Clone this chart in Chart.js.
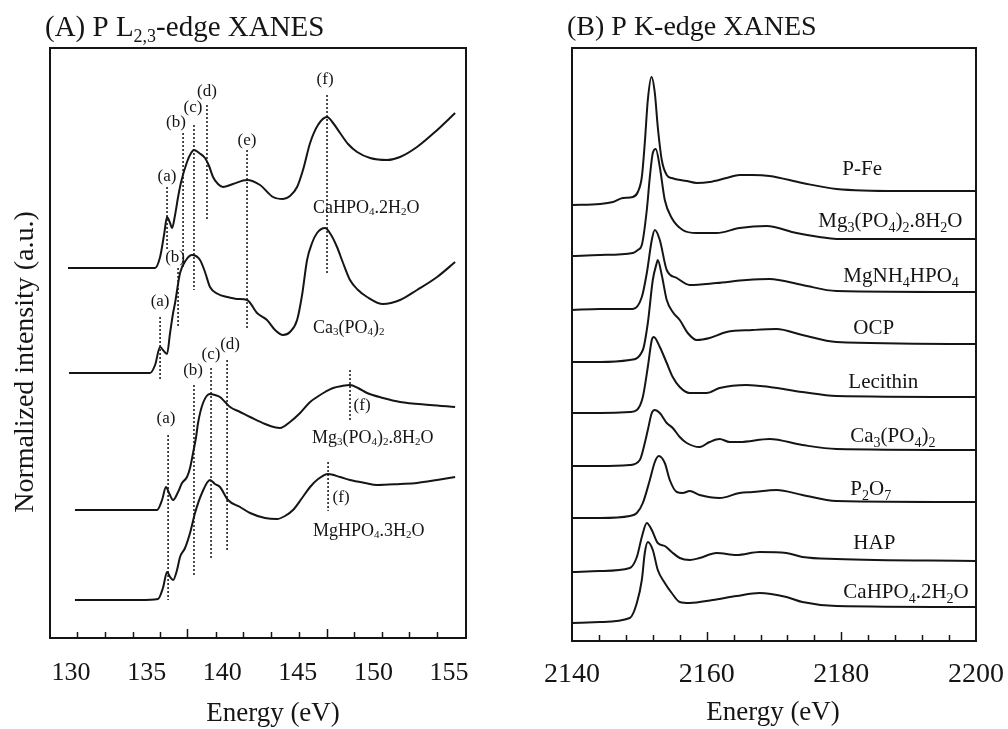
<!DOCTYPE html>
<html><head><meta charset="utf-8">
<script src="https://cdn.jsdelivr.net/npm/chart.js@4.4.1/dist/chart.umd.min.js"></script>
<style>
html,body{margin:0;padding:0;background:#fff;overflow:hidden;}
#wrap{position:relative;width:1008px;height:729px;overflow:hidden;background:#fff;}
#cA{position:absolute;left:0;top:0;}
#cB{position:absolute;left:510px;top:0;}
</style></head><body>
<div id="wrap"><canvas id="cA" width="510" height="729"></canvas><canvas id="cB" width="511" height="729"></canvas></div>
<script>
// ---------- Panel A : P L2,3-edge XANES ----------
const A_xTicks = [130,135,140,145,150,155];
const A_xMin = 128.61, A_xMax = 156.12, A_yMin = 0, A_yMax = 5.90;
const A_minorTicks = [130.40,132.25,134.10,135.89,139.59,141.38,143.23,145.08,148.72,150.57,152.35,154.21];
const A_majorTicks = [137.67,146.93];

const A1_x = [129.80,131.92,133.90,135.56,135.89,136.15,136.35,136.55,136.68,136.88,137.08,137.28,137.67,137.94,138.13,138.47,138.86,139.13,139.39,139.72,140.05,140.71,141.64,142.50,143.36,144.02,144.48,144.95,145.34,145.81,146.33,146.93,147.33,147.79,148.32,148.92,149.78,150.90,151.76,152.88,154.07,155.40];
const A1_y = [3.70,3.70,3.70,3.70,3.81,4.03,4.21,4.15,4.10,4.23,4.41,4.56,4.76,4.85,4.88,4.85,4.80,4.72,4.61,4.54,4.51,4.54,4.58,4.53,4.41,4.39,4.42,4.51,4.68,4.95,5.13,5.21,5.15,5.05,4.94,4.86,4.80,4.78,4.81,4.91,5.06,5.25];
const A2_x = [129.87,131.92,133.90,135.22,135.56,135.89,136.08,136.35,136.55,136.75,136.88,137.21,137.61,138.00,138.53,138.86,139.19,139.72,140.32,140.98,141.64,142.30,142.96,143.49,144.02,144.48,144.95,145.28,145.61,145.94,146.27,146.80,147.20,147.59,147.99,148.45,148.98,149.58,150.63,151.76,152.88,154.21,155.40];
const A2_y = [2.65,2.65,2.65,2.65,2.73,2.91,2.88,2.84,3.05,3.25,3.35,3.65,3.78,3.83,3.78,3.66,3.51,3.44,3.41,3.39,3.38,3.25,3.18,3.08,3.03,3.06,3.18,3.43,3.78,3.95,4.05,4.10,4.03,3.91,3.75,3.58,3.48,3.41,3.34,3.38,3.48,3.61,3.76];
const A3_x = [130.26,132.58,134.56,135.69,136.02,136.28,136.48,136.75,137.08,137.34,137.67,137.87,138.07,138.27,138.40,138.73,139.19,139.52,139.85,140.19,140.52,141.18,141.84,142.83,143.82,144.48,145.15,145.81,146.27,146.80,147.33,147.92,148.45,148.98,149.58,150.63,151.76,153.74,155.40];
const A3_y = [1.28,1.28,1.28,1.28,1.38,1.51,1.45,1.38,1.46,1.55,1.61,1.70,1.85,2.01,2.15,2.35,2.44,2.43,2.41,2.36,2.31,2.26,2.21,2.14,2.10,2.16,2.25,2.36,2.41,2.46,2.50,2.52,2.53,2.50,2.45,2.40,2.36,2.33,2.31];
const A4_x = [130.26,132.58,134.56,135.75,136.08,136.35,136.55,136.75,137.01,137.21,137.54,137.87,138.20,138.66,139.19,139.52,139.85,140.38,141.18,141.84,142.83,143.62,144.15,144.68,145.28,145.81,146.34,147.00,147.79,148.45,149.44,150.24,151.76,152.88,154.21,155.40];
const A4_y = [0.38,0.38,0.38,0.39,0.50,0.66,0.61,0.58,0.68,0.81,0.90,1.05,1.25,1.45,1.58,1.54,1.51,1.38,1.31,1.25,1.20,1.19,1.22,1.28,1.40,1.51,1.59,1.64,1.61,1.58,1.55,1.53,1.54,1.55,1.58,1.61];

const A_sampleNames = ['CaHPO{4}.2H{2}O','Ca{3}(PO{4}){2}','Mg{3}(PO{4}){2}.8H{2}O','MgHPO{4}.3H{2}O'];
const A_sampleX = [146.00,146.00,145.94,146.00];
const A_sampleY = [4.25,3.05,1.95,1.02];

const A_markX      = [136.35,137.41,138.13,138.99,141.64,146.93,135.89,137.08,136.42,138.13,139.26,140.32,148.45,147.00];
const A_markTop    = [4.51,5.05,5.13,5.33,4.88,5.43,3.21,3.70,2.03,2.53,2.70,2.78,2.68,1.76];
const A_markBottom = [3.88,3.71,3.48,4.17,3.09,3.63,2.59,3.10,0.38,0.63,0.80,0.88,2.18,1.27];
const A_markText   = ['(a)','(b)','(c)','(d)','(e)','(f)','(a)','(b)','(a)','(b)','(c)','(d)','(f)','(f)'];
const A_markLabX   = [136.35,136.94,138.07,138.99,141.64,146.80,135.89,136.88,136.28,138.07,139.26,140.52,149.25,147.86];
const A_markLabY   = [4.61,5.15,5.30,5.46,4.97,5.58,3.36,3.80,2.19,2.67,2.83,2.93,2.32,1.40];

// ---------- Panel B : P K-edge XANES ----------
const B_xTicks = [2140,2160,2180,2200];
const B_xMin = 2140, B_xMax = 2200, B_yMin = 0, B_yMax = 5.93;
const B_minorTicks = [2144,2148,2152,2156,2164,2168,2172,2176,2184,2188,2192,2196];
const B_majorTicks = [2160,2180];

const B1_x = [2140.00,2144.15,2146.07,2147.56,2149.04,2149.78,2150.37,2150.81,2151.26,2151.81,2152.30,2152.74,2153.33,2154.07,2154.81,2157.04,2158.52,2160.44,2162.96,2164.89,2166.81,2169.33,2174.22,2179.26,2188.59,2200.00];
const B1_y = [4.36,4.37,4.39,4.43,4.44,4.49,4.64,4.98,5.41,5.64,5.48,5.14,4.81,4.66,4.63,4.60,4.58,4.59,4.63,4.66,4.66,4.65,4.58,4.52,4.50,4.50];
const B2_x = [2140.00,2144.15,2149.04,2149.78,2150.37,2151.11,2151.56,2152.00,2152.44,2153.04,2153.78,2154.81,2156.44,2158.52,2161.48,2164.89,2168.89,2173.33,2176.74,2179.26,2200.00];
const B2_y = [3.85,3.86,3.88,3.91,3.96,4.31,4.64,4.88,4.92,4.74,4.41,4.23,4.11,4.08,4.08,4.13,4.15,4.08,4.04,4.02,4.02];
const B3_x = [2140.00,2144.15,2149.04,2150.37,2151.11,2151.85,2152.30,2153.04,2154.07,2155.56,2157.48,2161.48,2165.93,2169.33,2174.22,2179.26,2200.00];
const B3_y = [3.31,3.32,3.32,3.44,3.68,4.01,4.11,4.01,3.71,3.63,3.56,3.58,3.61,3.62,3.56,3.50,3.49];
const B4_x = [2140.00,2144.15,2148.59,2150.52,2151.26,2152.00,2152.59,2152.74,2153.33,2154.07,2154.96,2156.00,2157.19,2158.52,2160.44,2162.96,2166.81,2170.37,2174.22,2179.26,2200.00];
const B4_y = [2.79,2.79,2.81,2.91,3.18,3.61,3.78,3.81,3.66,3.41,3.29,3.21,3.08,3.01,3.03,3.09,3.11,3.12,3.06,2.99,2.97];
const B5_x = [2140.00,2144.15,2148.59,2149.63,2150.52,2151.26,2151.85,2152.15,2153.04,2154.07,2154.96,2156.00,2157.48,2160.00,2161.93,2165.93,2169.33,2174.22,2179.26,2200.00];
const B5_y = [2.28,2.28,2.29,2.31,2.44,2.74,3.01,3.04,2.94,2.78,2.64,2.54,2.48,2.48,2.53,2.56,2.54,2.49,2.45,2.44];
const B6_x = [2140.00,2144.15,2148.59,2150.07,2150.81,2151.26,2151.85,2152.30,2153.04,2154.07,2154.96,2156.00,2157.04,2158.96,2160.44,2161.93,2163.41,2164.89,2169.33,2174.22,2179.26,2200.00];
const B6_y = [1.75,1.75,1.76,1.81,1.98,2.11,2.28,2.31,2.28,2.18,2.13,2.04,1.98,1.94,1.99,2.02,1.99,1.99,2.02,1.96,1.92,1.91];
const B7_x = [2140.00,2144.15,2148.59,2149.63,2150.52,2151.56,2152.30,2152.89,2153.78,2154.52,2155.56,2156.44,2157.48,2158.96,2161.93,2164.89,2166.81,2170.37,2174.22,2179.26,2200.00];
const B7_y = [1.23,1.23,1.25,1.28,1.38,1.61,1.79,1.85,1.78,1.61,1.49,1.48,1.50,1.46,1.43,1.48,1.49,1.51,1.46,1.40,1.39];
const B8_x = [2140.00,2144.15,2148.59,2149.63,2150.37,2151.11,2151.85,2152.74,2153.78,2154.81,2156.00,2157.48,2158.96,2161.48,2164.44,2167.85,2171.85,2174.22,2179.26,2200.00];
const B8_y = [0.69,0.70,0.73,0.84,1.04,1.18,1.11,0.98,0.95,0.89,0.83,0.81,0.83,0.88,0.86,0.89,0.88,0.84,0.82,0.80];
const B9_x = [2140.00,2144.15,2148.59,2149.63,2150.37,2150.81,2151.26,2152.00,2152.74,2153.78,2154.81,2156.00,2157.48,2160.89,2164.44,2167.85,2171.85,2174.22,2179.26,2200.00];
const B9_y = [0.18,0.19,0.23,0.38,0.61,0.88,0.99,0.91,0.71,0.58,0.48,0.39,0.38,0.41,0.45,0.48,0.44,0.39,0.35,0.34];

const B_sampleNames = ['P-Fe','Mg{3}(PO{4}){2}.8H{2}O','MgNH{4}HPO{4}','OCP','Lecithin','Ca{3}(PO{4}){2}','P{2}O{7}','HAP','CaHPO{4}.2H{2}O'];
const B_sampleX = [2180.15,2176.59,2180.30,2181.78,2181.04,2181.33,2181.33,2181.78,2180.30];
const B_sampleY = [4.66,4.14,3.59,3.07,2.53,1.99,1.46,0.92,0.43];

// ---------- drawing helpers ----------
const FONT = '"Liberation Serif", "Times New Roman", serif';
const INK = '#151515';

function drawRich(ctx, text, x, y, size, subSize, subDy, align) {
  const parts = []; const re = /\{([^}]*)\}/g; let last = 0, m;
  while ((m = re.exec(text))) {
    if (m.index > last) parts.push({t: text.slice(last, m.index), s: false});
    parts.push({t: m[1], s: true}); last = re.lastIndex;
  }
  if (last < text.length) parts.push({t: text.slice(last), s: false});
  let w = 0;
  parts.forEach(p => { ctx.font = (p.s ? subSize : size) + 'px ' + FONT; p.w = ctx.measureText(p.t).width; w += p.w; });
  let cx = align === 'center' ? x - w / 2 : (align === 'right' ? x - w : x);
  ctx.textAlign = 'left'; ctx.textBaseline = 'alphabetic';
  parts.forEach(p => { ctx.font = (p.s ? subSize : size) + 'px ' + FONT; ctx.fillText(p.t, cx, p.s ? y + subDy : y); cx += p.w; });
}

function curve(xs, ys) {
  return { data: xs.map((v, i) => ({x: v, y: ys[i]})), borderColor: INK, borderWidth: 2,
    pointRadius: 0, tension: 0.4, cubicInterpolationMode: 'monotone', fill: false };
}
function marker(x, y0, y1) {
  return { data: [{x: x, y: y0}, {x: x, y: y1}], borderColor: '#222', borderWidth: 1.6,
    borderDash: [2, 2], pointRadius: 0, tension: 0, fill: false };
}

const panelPlugin = {
  id: 'panel',
  afterDraw(chart, args, o) {
    const ctx = chart.ctx, ca = chart.chartArea, xs = chart.scales.x, ys = chart.scales.y;
    ctx.save();
    ctx.fillStyle = INK; ctx.strokeStyle = INK;
    ctx.lineWidth = 2;
    ctx.strokeRect(ca.left, ca.top, ca.right - ca.left, ca.bottom - ca.top);
    ctx.lineWidth = 1.5;
    const tick = (v, len) => { const px = Math.round(xs.getPixelForValue(v)) + 0.5;
      ctx.beginPath(); ctx.moveTo(px, ca.bottom); ctx.lineTo(px, ca.bottom - len); ctx.stroke(); };
    o.minor.forEach(v => tick(v, 6));
    o.major.forEach(v => tick(v, 9));
    if (o.markText) {
      ctx.font = '17px ' + FONT; ctx.textAlign = 'center'; ctx.textBaseline = 'middle';
      o.markText.forEach((t, i) => ctx.fillText(t, xs.getPixelForValue(o.markX[i]), ys.getPixelForValue(o.markY[i])));
    }
    o.names.forEach((t, i) => drawRich(ctx, t, xs.getPixelForValue(o.nameX[i]), ys.getPixelForValue(o.nameY[i]),
      o.nameSize, o.subSize, o.subDy, 'left'));
    drawRich(ctx, o.title, o.titlePos[0], o.titlePos[1], o.titleSize, 18, 6, 'left');
    ctx.font = '27px ' + FONT; ctx.textAlign = 'center'; ctx.textBaseline = 'alphabetic';
    ctx.fillText('Energy (eV)', o.xTitlePos[0], o.xTitlePos[1]);
    if (o.yTitle) {
      ctx.translate(o.yTitlePos[0], o.yTitlePos[1]); ctx.rotate(-Math.PI / 2);
      ctx.font = '28px ' + FONT; ctx.textAlign = 'center'; ctx.textBaseline = 'alphabetic';
      ctx.fillText(o.yTitle, 0, 0);
    }
    ctx.restore();
  }
};

function makeScales(xMin, xMax, yMin, yMax, xTicks, xH, yW, tickSize, pad) {
  return {
    x: { type: 'linear', min: xMin, max: xMax,
      afterFit: s => { s.height = xH; },
      afterBuildTicks: s => { s.ticks = xTicks.map(v => ({value: v})); },
      ticks: { font: {family: FONT, size: tickSize}, color: INK, padding: pad, maxRotation: 0, autoSkip: false,
        includeBounds: false, callback: v => String(v) },
      grid: { display: false, drawTicks: false }, border: { display: false } },
    y: { type: 'linear', min: yMin, max: yMax,
      afterFit: s => { s.width = yW; },
      ticks: { display: false }, grid: { display: false, drawTicks: false }, border: { display: false } }
  };
}

// ---------- Chart A ----------
const dsA = [curve(A1_x, A1_y), curve(A2_x, A2_y), curve(A3_x, A3_y), curve(A4_x, A4_y)];
A_markX.forEach((x, i) => dsA.push(marker(x, A_markTop[i], A_markBottom[i])));
new Chart(document.getElementById('cA'), {
  type: 'line',
  data: { datasets: dsA },
  options: {
    responsive: false, animation: false, devicePixelRatio: 1,
    layout: { padding: { top: 48, right: 44, left: 0, bottom: 0 } },
    scales: makeScales(A_xMin, A_xMax, A_yMin, A_yMax, A_xTicks, 91, 50, 26, 20),
    plugins: { legend: { display: false }, tooltip: { enabled: false },
      panel: { minor: A_minorTicks, major: A_majorTicks,
        markText: A_markText, markX: A_markLabX, markY: A_markLabY,
        names: A_sampleNames, nameX: A_sampleX, nameY: A_sampleY, nameSize: 18, subSize: 11, subDy: 2,
        title: '(A) P L{2,3}-edge XANES', titleSize: 29, titlePos: [45, 36], xTitlePos: [273, 721],
        yTitle: 'Normalized intensity (a.u.)', yTitlePos: [33, 362] } }
  },
  plugins: [panelPlugin]
});

// ---------- Chart B ----------
const dsB = [curve(B1_x, B1_y), curve(B2_x, B2_y), curve(B3_x, B3_y), curve(B4_x, B4_y), curve(B5_x, B5_y),
  curve(B6_x, B6_y), curve(B7_x, B7_y), curve(B8_x, B8_y), curve(B9_x, B9_y)];
new Chart(document.getElementById('cB'), {
  type: 'line',
  data: { datasets: dsB },
  options: {
    responsive: false, animation: false, devicePixelRatio: 1,
    layout: { padding: { top: 48, right: 44, left: 0, bottom: 0 } },
    scales: makeScales(B_xMin, B_xMax, B_yMin, B_yMax, B_xTicks, 88, 62, 28, 17),
    plugins: { legend: { display: false }, tooltip: { enabled: false },
      panel: { minor: B_minorTicks, major: B_majorTicks,
        names: B_sampleNames, nameX: B_sampleX, nameY: B_sampleY, nameSize: 21, subSize: 14, subDy: 5,
        title: '(B) P K-edge XANES', titleSize: 28, titlePos: [57, 35], xTitlePos: [263, 720] } }
  },
  plugins: [panelPlugin]
});
</script>
</body></html>
